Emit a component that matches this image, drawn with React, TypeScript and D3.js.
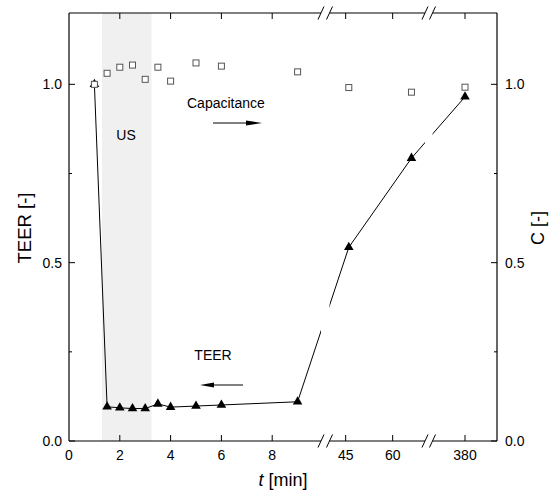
import React from "react";
import * as d3 from "d3";

// ---- data ----
const timeMin = [1, 1.5, 2, 2.5, 3, 3.5, 4, 5, 6, 9, 46, 66, 380];
const teerValues = [1.0, 0.096, 0.093, 0.091, 0.091, 0.104, 0.095, 0.098, 0.101, 0.11, 0.543, 0.793, 0.965];
const capValues = [1.0, 1.031, 1.048, 1.054, 1.014, 1.048, 1.009, 1.06, 1.051, 1.035, 0.991, 0.978, 0.992];
const xTickValues = [0, 2, 4, 6, 8, 45, 60, 380];
const xTickLabels = ["0", "2", "4", "6", "8", "45", "60", "380"];
const yTickValues = [0, 0.5, 1.0];
const yMinorTicks = [0.25, 0.75];
const usInterval = [1.3, 3.25];
const segmentDomains: [number, number][] = [[0, 10], [40, 70], [370, 390]];

// ---- layout ----
const W = 558, H = 492;
const L = 69, R = 497, T = 13, B = 441;
const segmentRanges: [number, number][] = [[69, 323], [330, 424], [433, 497]];
const breaks: [number, number][] = [[321, 329.5], [425, 432.5]];
const font = "'Liberation Sans', Arial, sans-serif";

const segScales = segmentDomains.map((d, i) => d3.scaleLinear().domain(d).range(segmentRanges[i]));
function xPos(t: number): number {
  for (let i = 0; i < segmentDomains.length; i++) {
    const [a, b] = segmentDomains[i];
    if (t >= a && t <= b) return segScales[i](t);
  }
  return segScales[0](t);
}
const y = d3.scaleLinear().domain([0, 1.2]).range([B, T]);

export default function App() {
  const line = d3.line<number>().x((_, i) => xPos(timeMin[i])).y((v) => y(v));
  const teerPath = line(teerValues) || "";
  const tri = d3.symbol().type(d3.symbolTriangle).size(40)() || "";

  const clipRects = [
    [L, breaks[0][0]],
    [breaks[0][1], breaks[1][0]],
    [breaks[1][1], R + 10],
  ];
  const axisSegs = clipRects.map(([a, b]) => [a, Math.min(b, R)]);

  const slash = (cx: number, cy: number, k: number) => (
    <line key={`s${k}-${cx}-${cy}`} x1={cx - 3} y1={cy + 6.5} x2={cx + 3} y2={cy - 6.5} stroke="#000" strokeWidth={1} />
  );

  return (
    <svg width={W} height={H} style={{ position: "absolute", left: 0, top: 0 }} fontFamily={font}>
      <defs>
        <clipPath id="segclip">
          {clipRects.map(([a, b], i) => (
            <rect key={i} x={a} y={0} width={b - a} height={H} />
          ))}
        </clipPath>
      </defs>
      <rect x={0} y={0} width={W} height={H} fill="#fff" />
      <rect x={xPos(usInterval[0])} y={T} width={xPos(usInterval[1]) - xPos(usInterval[0])} height={B - T} fill="#f0f0f0" />

      <line x1={L} y1={T} x2={L} y2={B} stroke="#000" strokeWidth={1.2} />
      <line x1={R} y1={T} x2={R} y2={B} stroke="#000" strokeWidth={1.2} />
      {axisSegs.map(([a, b], i) => (
        <g key={i}>
          <line x1={a} y1={B} x2={b} y2={B} stroke="#000" strokeWidth={1.2} />
          <line x1={a} y1={T} x2={b} y2={T} stroke="#000" strokeWidth={1.2} />
        </g>
      ))}
      {breaks.map(([a, b], i) => (
        <g key={`b${i}`}>
          {slash(a, B, 1)}
          {slash(b, B, 2)}
          {slash(a, T, 3)}
          {slash(b, T, 4)}
        </g>
      ))}

      {xTickValues.map((v, i) => {
        const x = xPos(v);
        return (
          <g key={`xt${i}`}>
            {v !== 0 && <line x1={x} y1={B} x2={x} y2={B - 6} stroke="#000" />}
            {v !== 0 && <line x1={x} y1={T} x2={x} y2={T + 6} stroke="#000" />}
            <text x={x} y={460} fontSize={14} textAnchor="middle" fill="#000">{xTickLabels[i]}</text>
          </g>
        );
      })}

      {yTickValues.map((v, i) => (
        <g key={`yt${i}`}>
          <line x1={L} y1={y(v)} x2={L + 6} y2={y(v)} stroke="#000" />
          <line x1={R} y1={y(v)} x2={R - 6} y2={y(v)} stroke="#000" />
          <text x={62} y={y(v) + 5} fontSize={14} textAnchor="end" fill="#000">{v.toFixed(1)}</text>
          <text x={505} y={y(v) + 5} fontSize={14} textAnchor="start" fill="#000">{v.toFixed(1)}</text>
        </g>
      ))}
      {yMinorTicks.map((v, i) => (
        <g key={`ym${i}`}>
          <line x1={L} y1={y(v)} x2={L + 3} y2={y(v)} stroke="#000" />
          <line x1={R} y1={y(v)} x2={R - 3} y2={y(v)} stroke="#000" />
        </g>
      ))}

      <path d={teerPath} fill="none" stroke="#000" strokeWidth={1} clipPath="url(#segclip)" />
      {teerValues.map((v, i) => (
        <path key={`tr${i}`} d={tri} transform={`translate(${xPos(timeMin[i])},${y(v)})`} fill="#000" />
      ))}
      {capValues.map((v, i) => (
        <rect key={`sq${i}`} x={xPos(timeMin[i]) - 3} y={y(v) - 3} width={6} height={6} fill="#fff" stroke="#555" strokeWidth={1} />
      ))}

      <text x={187} y={107.5} fontSize={14} fill="#000">Capacitance</text>
      <line x1={213} y1={123} x2={250} y2={123} stroke="#000" strokeWidth={1} />
      <path d="M262,123 L246,120.5 L246,125.5 Z" fill="#000" />
      <text x={126} y={140} fontSize={14} textAnchor="middle" fill="#000">US</text>
      <text x={213} y={360} fontSize={14} textAnchor="middle" fill="#000">TEER</text>
      <line x1={212} y1={385} x2={243} y2={385} stroke="#000" strokeWidth={1} />
      <path d="M200,385 L214,382.5 L214,387.5 Z" fill="#000" />

      <text transform="translate(31,228) rotate(-90)" fontSize={18.5} textAnchor="middle" fill="#000">TEER [-]</text>
      <text transform="translate(544,228) rotate(-90)" fontSize={18} textAnchor="middle" fill="#000">C [-]</text>
      <text x={283} y={486} fontSize={18} textAnchor="middle" fill="#000">
        <tspan fontStyle="italic">t</tspan> [min]
      </text>
    </svg>
  );
}
